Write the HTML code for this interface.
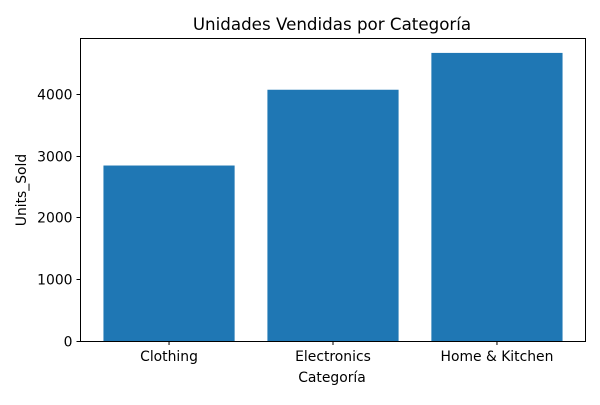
<!DOCTYPE html>
<html><head><meta charset="utf-8"><style>
html,body{margin:0;padding:0;background:#fff;}
svg text{font-family:"DejaVu Sans","Liberation Sans",sans-serif;fill:#000;}
</style></head><body>
<svg id="chart" width="600" height="400" xmlns="http://www.w3.org/2000/svg">
<rect width="600" height="400" fill="#fff"/>
<text x="332" y="30" font-size="16.7" text-anchor="middle">Unidades Vendidas por Categoría</text>
<text x="332" y="382" font-size="13.9" text-anchor="middle">Categoría</text>
<text transform="translate(26,190) rotate(-90)" font-size="13.9" text-anchor="middle">Units_Sold</text>
<g id="marks"></g>
<rect x="80.5" y="38.5" width="505" height="303" fill="none" stroke="#000" stroke-width="1"/>
</svg>
<script>
const categories = ["Clothing", "Electronics", "Home & Kitchen"];
const unitsSold = [2839, 4065, 4661];
const yTicks = [0, 1000, 2000, 3000, 4000];

const L = 80.5, R = 585.5, T = 38.5, B = 341;
const yMax = Math.max(...unitsSold) * 1.05;
const xMin = -0.54, xMax = categories.length - 1 + 0.54;
function xs(i){ return L + (i - xMin) / (xMax - xMin) * (R - L); }
function ys(v){ return B - v / yMax * (B - T); }
const NS = "http://www.w3.org/2000/svg";
const g = document.getElementById("marks");
function mk(tag, attrs){ const e = document.createElementNS(NS, tag); for (const k in attrs) e.setAttribute(k, attrs[k]); g.appendChild(e); return e; }

const bw = 0.8 * (xs(1) - xs(0));
categories.forEach((c, i) => {
  const r = mk("rect", {x: xs(i) - bw/2, y: ys(unitsSold[i]), width: bw, height: B - ys(unitsSold[i]), fill: "#1f77b4"});
  
  
  const t = mk("line", {x1: xs(i), x2: xs(i), y1: B, y2: B + 4, stroke: "#000"});
  
  
  const lb = mk("text", {x: xs(i), y: B + 20, "font-size": 13.9, "text-anchor": "middle"});
  lb.textContent = c;
  
  
});
yTicks.forEach(v => {
  const y = Math.round(ys(v)) + 0.5;
  const t = mk("line", {x1: L - 4, x2: L, y1: y, y2: y, stroke: "#000"});
  
  
  const lb = mk("text", {x: L - 8, y: y + 5, "font-size": 13.9, "text-anchor": "end"});
  lb.textContent = v;
  
  
});
</script>
</body></html>
